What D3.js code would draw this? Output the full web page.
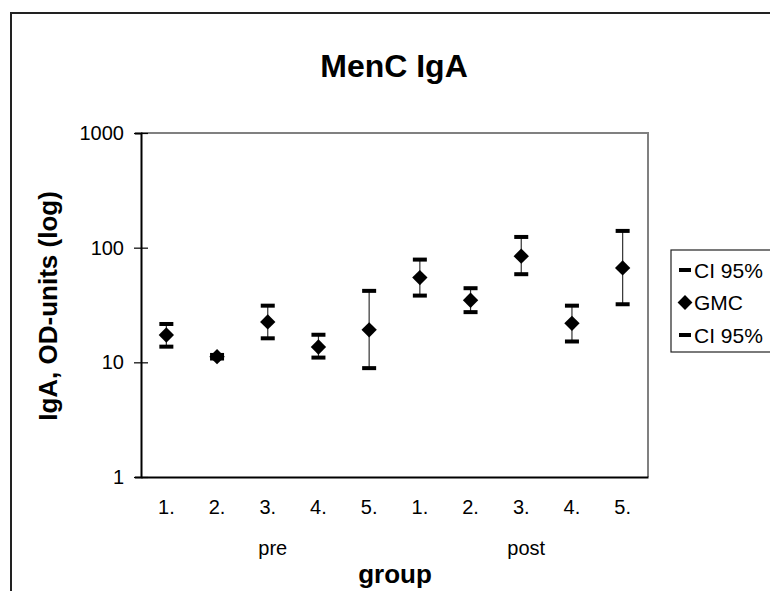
<!DOCTYPE html>
<html>
<head>
<meta charset="utf-8">
<script src="https://cdn.jsdelivr.net/npm/d3@7"></script>
<style>
  body { margin: 0; background: #fff; }
  text { font-family: "Liberation Sans", Arial, sans-serif; }
</style>
</head>
<body>
<svg id="chart" width="770" height="591"></svg>
<script>
// data
let groups = ["1.", "2.", "3.", "4.", "5.", "1.", "2.", "3.", "4.", "5."];
let phases = ["pre", "post"];
let gmc = [17.3, 11.2, 22.5, 13.6, 19.2, 54.8, 34.8, 84.3, 21.9, 66.6];
let ciLow = [13.7, 10.8, 16.2, 11.0, 8.9, 38.2, 27.4, 58.7, 15.2, 32.1];
let ciHigh = [21.6, 11.6, 31.2, 17.4, 42, 78.7, 44.3, 124, 31.2, 140];
let yTicks = [1, 10, 100, 1000];
let legendLabels = ["CI 95%", "GMC", "CI 95%"];

let svg = d3.select("#chart");
const FONT = "Liberation Sans, Arial, sans-serif";

// outer chart frame (runs off the right/bottom edge)
svg.append("rect")
    .attr("x", 11).attr("y", 13)
    .attr("width", 800).attr("height", 620)
    .attr("fill", "none").attr("stroke", "#222").attr("stroke-width", 2);

let pLeft = 141, pRight = 648, pTop = 133, pBottom = 477;

let x = d3.scaleBand()
    .domain(d3.range(groups.length))
    .range([pLeft, pRight]);
let y = d3.scaleLog()
    .domain([1, 1000])
    .range([pBottom, pTop]);

// plot frame (top/right grey)
svg.append("path")
    .attr("d", `M${pLeft},${pTop}H${pRight}V${pBottom}`)
    .attr("fill", "none").attr("stroke", "#808080").attr("stroke-width", 2);

// y axis, ticks cross the axis
let yAxis = d3.axisLeft(y).tickValues(yTicks).tickFormat(d3.format("d")).tickSize(6).tickPadding(11);
let gy = svg.append("g").attr("transform", `translate(${pLeft},0)`).call(yAxis);
gy.select(".domain").attr("stroke", "#000").attr("stroke-width", 2);
gy.selectAll(".tick line").attr("x1", -7).attr("x2", 7).attr("stroke", "#000").attr("stroke-width", 1.2);
gy.selectAll(".tick text")
    .attr("x", -17)
    .attr("font-size", 20).attr("fill", "#000")
    .attr("font-family", FONT);

// x axis
let xAxis = d3.axisBottom(x).tickFormat(i => groups[i]).tickSize(0).tickPadding(23);
let gx = svg.append("g").attr("transform", `translate(0,${pBottom})`).call(xAxis);
gx.select(".domain").attr("stroke", "#000").attr("stroke-width", 2);
gx.selectAll(".tick text").attr("font-size", 20).attr("fill", "#000")
    .attr("font-family", FONT);

// phase labels under the group ticks
svg.selectAll(".phase")
    .data(phases)
    .join("text")
    .attr("class", "phase")
    .attr("x", (d, i) => x(i * 5 + 2) + x.bandwidth() / 2 + 5)
    .attr("y", 555)
    .attr("text-anchor", "middle")
    .attr("font-size", 20)
    .text(d => d);

// titles
svg.append("text").attr("x", 394).attr("y", 77).attr("text-anchor", "middle")
    .attr("font-size", 32).attr("font-weight", "bold").text("MenC IgA");
svg.append("text").attr("x", 395).attr("y", 583).attr("text-anchor", "middle")
    .attr("font-size", 26).attr("font-weight", "bold").text("group");
svg.append("text")
    .attr("transform", `translate(57,306) rotate(-90)`)
    .attr("text-anchor", "middle")
    .attr("font-size", 26).attr("font-weight", "bold")
    .text("IgA, OD-units (log)");

let cx = i => x(i) + x.bandwidth() / 2;
let idx = d3.range(groups.length);

// error bar stems
svg.selectAll(".stem")
    .data(idx)
    .join("line")
    .attr("class", "stem")
    .attr("x1", cx).attr("x2", cx)
    .attr("y1", i => y(ciLow[i])).attr("y2", i => y(ciHigh[i]))
    .attr("stroke", "#333").attr("stroke-width", 1.2);

// caps
let caps = [];
idx.forEach(i => { caps.push({i: i, v: ciLow[i]}); caps.push({i: i, v: ciHigh[i]}); });
svg.selectAll(".cap")
    .data(caps)
    .join("rect")
    .attr("class", "cap")
    .attr("x", d => cx(d.i) - 7)
    .attr("y", d => y(d.v) - 2)
    .attr("width", 14).attr("height", 4)
    .attr("fill", "#000");

// GMC diamonds
let diamond = d3.symbol().type(d3.symbolDiamond2).size(150);
svg.selectAll(".gmc")
    .data(idx)
    .join("path")
    .attr("class", "gmc")
    .attr("d", diamond)
    .attr("transform", i => `translate(${cx(i)},${y(gmc[i])})`)
    .attr("fill", "#000");

// legend
let lg = svg.append("g").attr("transform", "translate(671,250)");
lg.append("rect").attr("x", 0).attr("y", 0).attr("width", 120).attr("height", 102)
    .attr("fill", "#fff").attr("stroke", "#222").attr("stroke-width", 1.2);
legendLabels.forEach((t, k) => {
    let yy = 20 + k * 32.5;
    if (k === 1) {
        lg.append("path").attr("d", diamond.size(140)).attr("transform", `translate(14,${yy})`).attr("fill", "#000");
    } else {
        lg.append("rect").attr("x", 8).attr("y", yy - 2).attr("width", 12).attr("height", 4).attr("fill", "#000");
    }
    lg.append("text").attr("x", 23).attr("y", yy + 7.5).attr("font-size", 21).text(t);
});
</script>
</body>
</html>
